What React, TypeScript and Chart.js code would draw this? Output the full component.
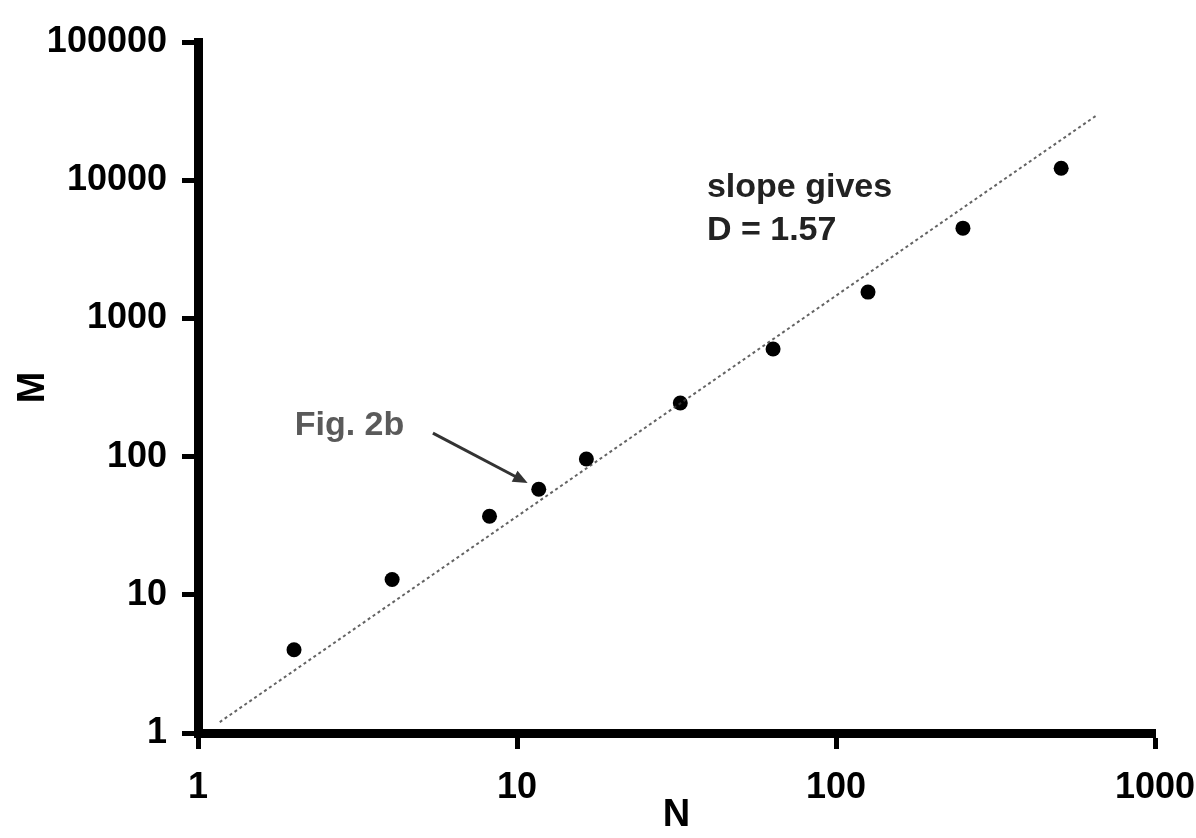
import React, { useEffect, useRef } from "react";
import { Chart, registerables } from "chart.js";

Chart.register(...registerables);

// ---- data ----
const sizeN: number[] = [2.0, 4.06, 8.2, 11.7, 16.5, 32.5, 63.5, 126, 250, 508];
const massM: number[] = [4.0, 12.9, 37, 58, 96, 244, 600, 1550, 4500, 12200];

// fitted power-law line (slope gives D = 1.57), end points
const fitN: number[] = [1.17, 658];
const fitM: number[] = [1.2, 29600];

const xTickValues: number[] = [1, 10, 100, 1000];
const xTickLabels: string[] = ["1", "10", "100", "1000"];
const yTickValues: number[] = [1, 10, 100, 1000, 10000, 100000];
const yTickLabels: string[] = ["1", "10", "100", "1000", "10000", "100000"];

const xTitle = "N";
const yTitle = "M";

// annotations (data coordinates)
const noteTexts: string[] = ["Fig. 2b", "slope gives", "D = 1.57"];
const noteN: number[] = [2.01, 39.4, 39.4];
const noteM: number[] = [143, 7560, 3690];
const noteColors: string[] = ["#5a5a5a", "#222222", "#222222"];

const arrowFromN = 5.45;
const arrowFromM = 148;
const arrowToN = 10.8;
const arrowToM = 64.4;

const FONT = "'Liberation Sans', Arial, sans-serif";

const annotationPlugin = {
  id: "figAnnotations",
  afterDatasetsDraw(chart: any) {
    const ctx = chart.ctx as CanvasRenderingContext2D;
    const xs = chart.scales.x;
    const ys = chart.scales.y;
    ctx.save();
    ctx.font = `bold 34px ${FONT}`;
    ctx.textAlign = "left";
    ctx.textBaseline = "alphabetic";
    noteTexts.forEach((t, i) => {
      ctx.fillStyle = noteColors[i];
      ctx.fillText(t, xs.getPixelForValue(noteN[i]), ys.getPixelForValue(noteM[i]));
    });
    const x1 = xs.getPixelForValue(arrowFromN);
    const y1 = ys.getPixelForValue(arrowFromM);
    const x2 = xs.getPixelForValue(arrowToN);
    const y2 = ys.getPixelForValue(arrowToM);
    const ang = Math.atan2(y2 - y1, x2 - x1);
    const head = 16;
    ctx.strokeStyle = "#333";
    ctx.fillStyle = "#333";
    ctx.lineWidth = 3;
    ctx.beginPath();
    ctx.moveTo(x1, y1);
    ctx.lineTo(x2 - Math.cos(ang) * head * 0.8, y2 - Math.sin(ang) * head * 0.8);
    ctx.stroke();
    ctx.beginPath();
    ctx.moveTo(x2, y2);
    ctx.lineTo(x2 - head * Math.cos(ang - 0.4), y2 - head * Math.sin(ang - 0.4));
    ctx.lineTo(x2 - head * Math.cos(ang + 0.4), y2 - head * Math.sin(ang + 0.4));
    ctx.closePath();
    ctx.fill();
    ctx.restore();
  },
};

export default function App() {
  const canvasRef = useRef<HTMLCanvasElement | null>(null);

  useEffect(() => {
    document.body.style.margin = "0";
    document.body.style.overflow = "hidden";
    const canvas = canvasRef.current;
    if (!canvas) return;
    const chart = new Chart(canvas, {
      type: "scatter",
      data: {
        datasets: [
          {
            label: "fit",
            data: fitN.map((n, i) => ({ x: n, y: fitM[i] })),
            showLine: true,
            borderColor: "rgba(60,60,60,0.8)",
            borderWidth: 2,
            borderDash: [3, 3],
            pointRadius: 0,
            fill: false,
          },
          {
            label: "clusters",
            data: sizeN.map((n, i) => ({ x: n, y: massM[i] })),
            showLine: false,
            pointRadius: 7.5,
            pointBackgroundColor: "#000",
            pointBorderColor: "#000",
            pointBorderWidth: 0,
          },
        ],
      },
      options: {
        animation: false,
        responsive: false,
        devicePixelRatio: 1,
        layout: { padding: { top: 42, right: 65, bottom: 0, left: 0 } },
        plugins: { legend: { display: false }, tooltip: { enabled: false } },
        scales: {
          x: {
            type: "logarithmic",
            min: 1,
            max: 1000,
            position: "bottom",
            afterBuildTicks: (scale: any) => {
              scale.ticks = xTickValues.map((v) => ({ value: v }));
            },
            afterFit: (scale: any) => {
              scale.height = 105;
            },
            ticks: {
              autoSkip: false,
              maxRotation: 0,
              minRotation: 0,
              padding: 17,
              color: "#000",
              font: { family: FONT, size: 36, weight: "bold" },
              callback: (_v: any, i: number) => xTickLabels[i],
            },
            grid: {
              drawOnChartArea: false,
              drawTicks: true,
              tickLength: 16,
              tickWidth: 5,
              color: "#000",
            },
            border: { display: true, color: "#000", width: 9 },
            title: {
              display: true,
              text: xTitle,
              color: "#000",
              font: { family: FONT, size: 38, weight: "bold" },
              padding: { top: 0, bottom: 0 },
            },
          },
          y: {
            type: "logarithmic",
            min: 1,
            max: 100000,
            position: "left",
            afterBuildTicks: (scale: any) => {
              scale.ticks = yTickValues.map((v) => ({ value: v }));
            },
            afterFit: (scale: any) => {
              scale.width = 198;
            },
            ticks: {
              autoSkip: false,
              padding: 15,
              color: "#000",
              font: { family: FONT, size: 36, weight: "bold" },
              callback: (_v: any, i: number) => yTickLabels[i],
            },
            grid: {
              drawOnChartArea: false,
              drawTicks: true,
              tickLength: 16,
              tickWidth: 5,
              color: "#000",
            },
            border: { display: true, color: "#000", width: 9 },
            title: {
              display: true,
              text: yTitle,
              color: "#000",
              font: { family: FONT, size: 38, weight: "bold" },
              padding: { top: 11, bottom: 0 },
            },
          },
        },
      },
      plugins: [annotationPlugin],
    });
    return () => chart.destroy();
  }, []);

  return (
    <div
      style={{
        position: "fixed",
        left: 0,
        top: 0,
        width: 1220,
        height: 838,
        background: "#fff",
        overflow: "hidden",
      }}
    >
      <canvas ref={canvasRef} width={1220} height={838} style={{ display: "block" }} />
    </div>
  );
}
